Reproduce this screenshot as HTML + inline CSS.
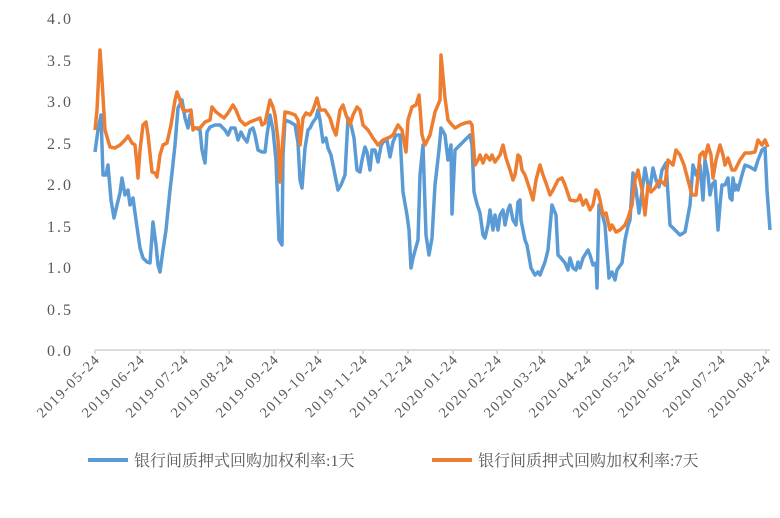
<!DOCTYPE html>
<html><head><meta charset="utf-8"><style>
body{margin:0;background:#fff}
svg text{font-family:"Liberation Serif","Noto Serif CJK SC",serif;fill:#595959}
</style></head><body>
<svg width="780" height="513" xmlns="http://www.w3.org/2000/svg">
<rect width="780" height="513" fill="#fff"/>
<g font-size="16" text-anchor="end" letter-spacing="2">
<text x="73" y="24">4.0</text><text x="73" y="66">3.5</text><text x="73" y="107">3.0</text>
<text x="73" y="190">2.0</text><text x="73" y="149">2.5</text><text x="73" y="232">1.5</text>
<text x="73" y="273">1.0</text><text x="73" y="315">0.5</text><text x="73" y="356">0.0</text>
</g>
<line x1="95" y1="350" x2="770" y2="350" stroke="#d0d0d0" stroke-width="1.5"/>
<g stroke="#d0d0d0" stroke-width="1.5">
<line x1="95" y1="350" x2="95" y2="354"/><line x1="140" y1="350" x2="140" y2="354"/><line x1="184" y1="350" x2="184" y2="354"/><line x1="229" y1="350" x2="229" y2="354"/><line x1="274" y1="350" x2="274" y2="354"/><line x1="318" y1="350" x2="318" y2="354"/><line x1="363" y1="350" x2="363" y2="354"/><line x1="408" y1="350" x2="408" y2="354"/><line x1="453" y1="350" x2="453" y2="354"/><line x1="497" y1="350" x2="497" y2="354"/><line x1="542" y1="350" x2="542" y2="354"/><line x1="587" y1="350" x2="587" y2="354"/><line x1="631" y1="350" x2="631" y2="354"/><line x1="676" y1="350" x2="676" y2="354"/><line x1="721" y1="350" x2="721" y2="354"/><line x1="766" y1="350" x2="766" y2="354"/>
</g>
<polyline fill="none" stroke="#5b9bd5" stroke-width="3.5" stroke-linejoin="round" points="95,152 98,130 101,115 103,175 106,175 108,165 111,200 114,218 117,205 120,193 122,178 125,195 128,190 130,205 133,198 136,220 140,248 143,258 147,262 150,263 153,222 156,245 158,265 160,272 163,250 166,230 170,190 172,173 175,145 178,108 182,100 185,118 188,128 190,115 193,128 196,128 200,130 202,150 205,163 207,132 210,127 215,125 220,125 225,130 228,135 231,128 235,128 238,140 241,132 244,138 247,142 250,130 253,128 255,135 258,150 262,152 265,152 267,135 270,115 273,130 276,160 279,240 282,245 283,155 285,120 290,122 295,125 298,143 300,180 302,188 305,148 308,130 310,128 313,122 316,118 318,110 320,120 323,142 326,138 328,148 331,155 335,175 338,190 341,185 345,175 348,118 351,125 354,138 357,170 360,172 362,160 365,147 367,152 370,170 372,150 375,150 378,162 381,146 383,142 387,140 390,157 393,142 396,135 400,135 403,192 407,215 409,230 411,268 413,258 418,240 420,175 423,145 426,235 429,255 432,238 435,185 439,150 441,128 445,135 448,160 451,145 452,214 455,150 460,145 465,140 470,135 472,145 474,192 477,204 480,213 483,235 485,238 488,225 490,210 493,230 495,215 498,230 500,215 503,210 505,225 508,210 510,205 513,220 516,225 518,202 520,200 521,220 523,230 525,240 527,245 531,268 535,275 538,272 540,275 545,262 548,250 552,205 556,215 558,255 561,258 565,263 568,270 570,258 573,268 576,270 578,262 580,268 583,258 588,250 590,255 593,265 596,263 597,288 599,205 602,213 605,225 609,278 612,272 615,280 617,270 622,263 625,240 628,226 630,220 633,173 636,190 639,213 642,192 645,168 648,185 650,188 653,168 656,180 659,187 662,170 666,163 670,225 675,230 680,235 685,232 690,205 693,165 696,175 700,165 703,200 705,160 708,175 710,195 712,185 715,181 718,230 720,205 722,185 725,185 728,178 730,198 732,200 733,178 735,190 736,185 738,190 742,175 745,165 750,167 755,170 758,160 762,150 765,148 767,190 770,230"/>
<polyline fill="none" stroke="#ed7d31" stroke-width="3.5" stroke-linejoin="round" points="95,130 97,110 100,50 102,80 105,130 110,147 115,148 120,145 125,140 128,136 132,143 135,145 137,165 138,178 140,150 143,125 146,122 148,135 152,172 155,173 157,177 160,155 163,145 167,143 171,125 175,100 177,92 180,100 183,110 187,111 191,110 193,130 195,128 200,128 205,122 210,120 212,107 216,112 220,115 224,118 228,113 233,105 236,110 240,120 245,125 250,122 255,120 260,118 262,125 265,123 270,100 273,107 275,115 278,140 280,182 282,150 285,112 290,113 295,115 298,120 300,145 303,118 306,113 310,115 313,110 317,98 320,110 325,110 330,118 333,128 336,135 340,110 343,105 346,115 350,125 353,115 357,107 360,110 363,125 368,130 373,138 378,145 383,140 390,137 393,135 398,125 402,130 406,152 408,120 412,107 416,105 419,95 422,135 425,145 430,135 435,112 440,100 441,55 445,98 448,120 452,125 455,128 460,125 465,123 470,122 472,125 475,165 478,160 480,155 483,163 486,155 490,160 492,155 495,162 500,155 503,145 506,158 510,170 513,180 515,175 518,155 520,157 522,170 525,175 530,190 533,200 536,180 540,165 543,175 546,183 550,195 553,190 558,180 562,178 565,185 570,200 575,201 578,200 580,195 583,205 586,200 590,210 593,205 596,190 598,192 600,200 603,215 606,213 610,230 612,225 616,232 620,230 625,225 628,218 632,205 635,180 638,170 642,190 645,215 648,185 651,192 655,188 660,180 665,185 668,160 673,165 676,150 680,155 684,165 688,180 692,195 696,195 700,155 703,152 705,158 708,145 711,155 713,178 716,160 720,145 723,155 725,165 728,158 732,170 735,170 740,160 745,153 750,153 755,152 758,140 762,145 765,140 768,147"/>
<line x1="88" y1="460" x2="128" y2="460" stroke="#5b9bd5" stroke-width="4"/>
<text x="134" y="466" font-size="16">银行间质押式回购加权利率:1天</text>
<line x1="432" y1="460" x2="472" y2="460" stroke="#ed7d31" stroke-width="4"/>
<text x="478" y="466" font-size="16">银行间质押式回购加权利率:7天</text>
<g font-size="14.5" text-anchor="end" letter-spacing="1.5">
<text transform="translate(101,360) rotate(-45)">2019-05-24</text>
<text transform="translate(146,360) rotate(-45)">2019-06-24</text>
<text transform="translate(190,360) rotate(-45)">2019-07-24</text>
<text transform="translate(235,360) rotate(-45)">2019-08-24</text>
<text transform="translate(280,360) rotate(-45)">2019-09-24</text>
<text transform="translate(324,360) rotate(-45)">2019-10-24</text>
<text transform="translate(369,360) rotate(-45)">2019-11-24</text>
<text transform="translate(414,360) rotate(-45)">2019-12-24</text>
<text transform="translate(459,360) rotate(-45)">2020-01-24</text>
<text transform="translate(503,360) rotate(-45)">2020-02-24</text>
<text transform="translate(548,360) rotate(-45)">2020-03-24</text>
<text transform="translate(593,360) rotate(-45)">2020-04-24</text>
<text transform="translate(637,360) rotate(-45)">2020-05-24</text>
<text transform="translate(682,360) rotate(-45)">2020-06-24</text>
<text transform="translate(727,360) rotate(-45)">2020-07-24</text>
<text transform="translate(772,360) rotate(-45)">2020-08-24</text>
</g>
</svg>
</body></html>
